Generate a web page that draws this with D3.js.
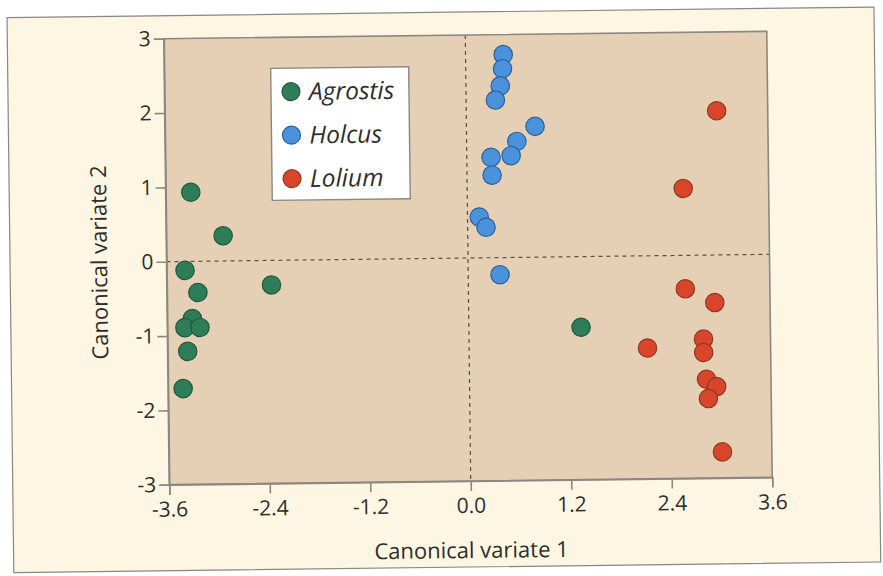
<!DOCTYPE html>
<html>
<head>
<meta charset="utf-8">
<script src="https://cdn.jsdelivr.net/npm/d3@7"></script>
<style>
  html, body { margin: 0; padding: 0; background: #ffffff; }
  svg { display: block; }
</style>
</head>
<body>
<svg id="chart" width="883" height="576"></svg>
<script>
// Canonical variate scores for three grass genera
const agrostisX = [-3.30, -2.92, -3.38, -3.23, -2.35, -3.30, -3.39, -3.21, -3.36, -3.42, 1.34];
const agrostisY = [0.93, 0.34, -0.12, -0.42, -0.33, -0.77, -0.89, -0.89, -1.21, -1.71, -0.95];

const holcusX = [0.45, 0.44, 0.41, 0.35, 0.82, 0.60, 0.53, 0.29, 0.30, 0.14, 0.22, 0.38];
const holcusY = [2.73, 2.54, 2.31, 2.12, 1.76, 1.56, 1.37, 1.35, 1.11, 0.55, 0.41, -0.23];

const loliumX = [2.99, 2.58, 2.59, 2.94, 2.13, 2.80, 2.80, 2.83, 2.95, 2.85, 3.01];
const loliumY = [1.94, 0.90, -0.45, -0.64, -1.24, -1.13, -1.31, -1.67, -1.77, -1.93, -2.65];

const seriesNames = ["Agrostis", "Holcus", "Lolium"];
const seriesFill = ["#2f7d58", "#4a92dc", "#d8452a"];
const seriesStroke = ["#1e5a3e", "#2d6199", "#8e3a22"];

const xTicks = [-3.6, -2.4, -1.2, 0.0, 1.2, 2.4, 3.6];
const xTickLabels = ["-3.6", "-2.4", "-1.2", "0.0", "1.2", "2.4", "3.6"];
const yTicks = [-3, -2, -1, 0, 1, 2, 3];
const yTickLabels = ["-3", "-2", "-1", "0", "1", "2", "3"];

const xTitle = "Canonical variate 1";
const yTitle = "Canonical variate 2";

const series = [
  { name: seriesNames[0], xs: agrostisX, ys: agrostisY, fill: seriesFill[0], stroke: seriesStroke[0] },
  { name: seriesNames[1], xs: holcusX, ys: holcusY, fill: seriesFill[1], stroke: seriesStroke[1] },
  { name: seriesNames[2], xs: loliumX, ys: loliumY, fill: seriesFill[2], stroke: seriesStroke[2] }
];

// Layout
const plot = { left: 166.5, right: 769.5, top: 35, bottom: 481 };
const FONT = "'Open Sans', Lato, sans-serif";
const INK = "#2f2d2b";

const svg = d3.select("#chart");

// The whole printed figure sits slightly tilted on the page
const root = svg.append("g")
  .attr("transform", "rotate(-0.7, 468, 258)");

// Cream figure panel
root.append("rect")
  .attr("x", 10).attr("y", 12)
  .attr("width", 867).attr("height", 555)
  .attr("fill", "#fcf6e2")
  .attr("stroke", "#8a8680")
  .attr("stroke-width", 1.2);

const x = d3.scaleLinear().domain([-3.6, 3.6]).range([plot.left, plot.right]);
const y = d3.scaleLinear().domain([-3, 3]).range([plot.bottom, plot.top]);

// Plot area fill
root.append("rect")
  .attr("x", plot.left).attr("y", plot.top)
  .attr("width", plot.right - plot.left)
  .attr("height", plot.bottom - plot.top)
  .attr("fill", "#e6d0b5");

// Dashed zero lines
root.append("line")
  .attr("x1", x(0)).attr("x2", x(0))
  .attr("y1", plot.top).attr("y2", plot.bottom)
  .attr("stroke", "#55514c").attr("stroke-width", 1.2)
  .attr("stroke-dasharray", "4,4");
root.append("line")
  .attr("x1", plot.left).attr("x2", plot.right)
  .attr("y1", y(0)).attr("y2", y(0))
  .attr("stroke", "#55514c").attr("stroke-width", 1.2)
  .attr("stroke-dasharray", "4,4");

// Plot frame
root.append("rect")
  .attr("x", plot.left).attr("y", plot.top)
  .attr("width", plot.right - plot.left)
  .attr("height", plot.bottom - plot.top)
  .attr("fill", "none")
  .attr("stroke", "#8c8782")
  .attr("stroke-width", 1.6);

// Axes
const xAxis = root.append("g")
  .attr("transform", `translate(0,${plot.bottom})`)
  .call(d3.axisBottom(x)
    .tickValues(xTicks)
    .tickFormat((d, i) => xTickLabels[i])
    .tickSize(10)
    .tickPadding(7));

const yAxis = root.append("g")
  .attr("transform", `translate(${plot.left},0)`)
  .call(d3.axisLeft(y)
    .tickValues(yTicks)
    .tickFormat((d, i) => yTickLabels[i])
    .tickSize(10)
    .tickPadding(3));

[xAxis, yAxis].forEach(ax => {
  ax.select(".domain").attr("stroke", "#8c8782").attr("stroke-width", 1.6);
  ax.selectAll(".tick line").attr("stroke", "#8c8782").attr("stroke-width", 1.6);
  ax.selectAll(".tick text")
    .attr("fill", INK)
    .style("font-family", FONT)
    .style("font-size", "21px");
});

// Axis titles
root.append("text")
  .attr("x", (plot.left + plot.right) / 2)
  .attr("y", 558)
  .attr("text-anchor", "middle")
  .attr("fill", INK)
  .style("font-family", FONT)
  .style("font-size", "22px")
  .text(xTitle);

root.append("text")
  .attr("transform", `translate(107,${(plot.top + plot.bottom) / 2}) rotate(-90)`)
  .attr("text-anchor", "middle")
  .attr("fill", INK)
  .style("font-family", FONT)
  .style("font-size", "22px")
  .text(yTitle);

// Points
series.forEach(s => {
  root.append("g")
    .selectAll("circle")
    .data(s.xs.map((v, i) => [v, s.ys[i]]))
    .join("circle")
    .attr("cx", d => x(d[0]))
    .attr("cy", d => y(d[1]))
    .attr("r", 9.2)
    .attr("fill", s.fill)
    .attr("stroke", s.stroke)
    .attr("stroke-width", 1.2);
});

// Legend
const legend = root.append("g").attr("transform", "translate(273,66)");
legend.append("rect")
  .attr("width", 138).attr("height", 132)
  .attr("fill", "#ffffff")
  .attr("stroke", "#8c8782")
  .attr("stroke-width", 1.4);

const item = legend.selectAll("g.item")
  .data(series)
  .join("g")
  .attr("class", "item")
  .attr("transform", (d, i) => `translate(20,${23.5 + i * 43.5})`);
item.append("circle")
  .attr("r", 9)
  .attr("fill", d => d.fill)
  .attr("stroke", d => d.stroke)
  .attr("stroke-width", 1.2);
item.append("text")
  .attr("x", 18)
  .attr("y", 8.5)
  .attr("fill", INK)
  .style("font-family", FONT)
  .style("font-style", "italic")
  .style("font-size", "24.5px")
  .text(d => d.name);
</script>
</body>
</html>
